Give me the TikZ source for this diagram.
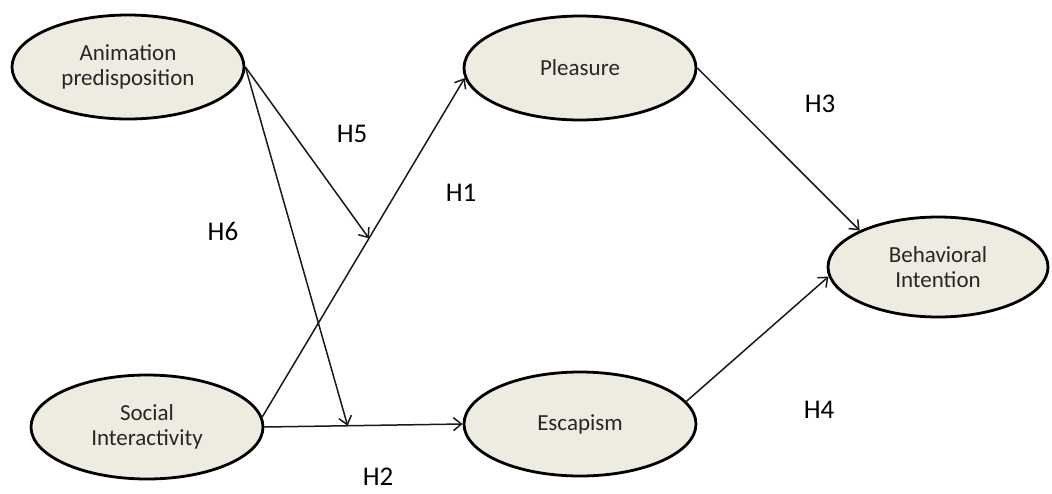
\documentclass[tikz,border=0pt]{standalone}
\usepackage{fontspec}
\setmainfont{Carlito}
\usetikzlibrary{shapes.geometric,arrows.meta}
\definecolor{fillbeige}{HTML}{EEECE1}
\definecolor{txt}{HTML}{262626}
\begin{document}
\begin{tikzpicture}[x=1pt,y=-1pt,
  latent/.style={ellipse, draw=black, line width=2.8pt, fill=fillbeige,
    minimum width=232pt, minimum height=104pt, inner sep=0pt,
    align=center, text=txt, font=\fontsize{23}{25}\selectfont},
  hyp/.style={text=black, font=\fontsize{27}{30}\selectfont, inner sep=0pt},
  path/.style={line width=1.5pt, draw=black!90, -{Straight Barb[length=8pt,width=13pt,line width=1.5pt]}}]
\fill[white] (0,0) rectangle (1052,493);
\useasboundingbox (0,0) rectangle (1052,493);

\node[latent] (ani) at (128,67) {Animation\\predisposition};
\node[latent] (pl) at (580,68) {Pleasure};
\node[latent, minimum width=220pt, minimum height=100pt] (bi) at (938,267) {Behavioral\\Intention};
\node[latent] (soc) at (147,427) {Social\\Interactivity};
\node[latent] (esc) at (580,424) {Escapism};

\path (soc.5) -- (pl.185) coordinate[pos=0.527] (m1);
\path (soc.east) -- (esc.west) coordinate[pos=0.42] (m2);

\draw[path] (soc.5) -- (pl.185);
\draw[path] (soc.east) -- (esc.west);
\draw[path] (ani.east) -- (m1);
\draw[path] (ani.east) -- (m2);
\draw[path] (pl.east) -- (bi.155);
\draw[path] (esc.12) -- (bi.185);

\node[hyp] (h5) at (352,134) {H5};
\node[hyp] (h1) at (461,193) {H1};
\node[hyp] (h6) at (223,231) {H6};
\node[hyp] (h3) at (820,104) {H3};
\node[hyp] (h4) at (819,410) {H4};
\node[hyp] (h2) at (378,477) {H2};
\end{tikzpicture}
\end{document}
